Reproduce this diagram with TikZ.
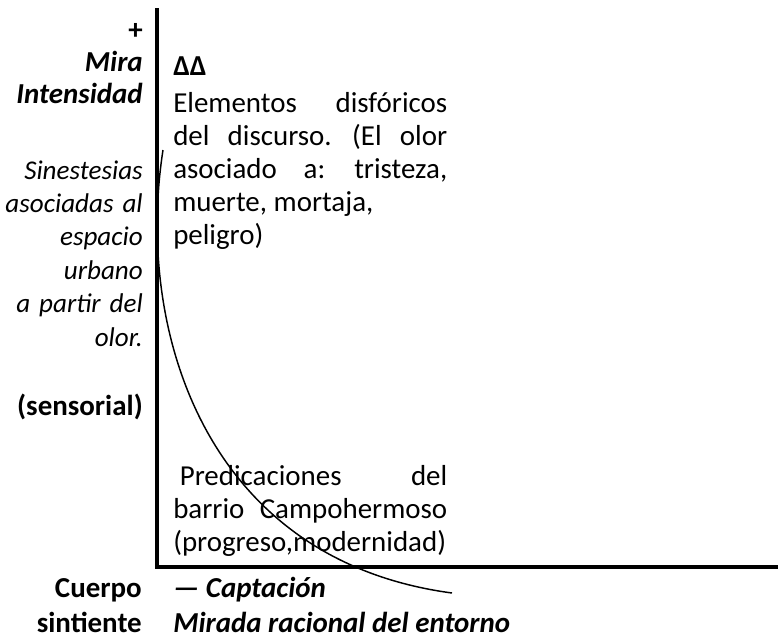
\documentclass[tikz,border=0pt]{standalone}
\usepackage{fontspec}
\setmainfont{Carlito}
\usetikzlibrary{positioning}

\tikzset{
  eje/.style={line width=3pt, line join=miter},
  curva/.style={line width=1.1pt},
  rotulo/.style={anchor=base east, inner sep=0pt, font=\fontsize{21.7}{24.75}\selectfont\bfseries},
  rotuloit/.style={rotulo, font=\fontsize{21.7}{24.75}\selectfont\bfseries\itshape},
  nota/.style={anchor=base east, inner sep=0pt, text width=125pt, align=right,
    font={\fontsize{20.3}{25.1}\selectfont\itshape\normalbaselineskip=25.1pt\relax}},
  texto/.style={anchor=base west, inner sep=0pt, text width=205.5pt, align=justify,
    font={\fontsize{21.7}{24.9}\selectfont\normalbaselineskip=24.9pt\relax}},
  pie/.style={anchor=base west, inner sep=0pt, font=\fontsize{21.7}{24.75}\selectfont\bfseries\itshape},
}

\begin{document}
\begin{tikzpicture}[x=0.75pt, y=-0.75pt]
\useasboundingbox (0,0) rectangle (778,639);

% left labels
\node[rotulo]   (mas)       at (143,39)  {+};
\node[rotuloit] (mira)      at (143,71)  {Mira};
\node[rotuloit] (intens)    at (143,103) {Intensidad};
\node[nota]     (sinest)    at (143,179) {Sinestesias\\asociadas al\\espacio\\urbano\\a partir del\\olor.};
\node[rotulo]   (sensorial) at (143,415) {(sensorial)};
\node[rotulo]   (cuerpo)    at (142,597) {Cuerpo};
\node[rotulo]   (sintiente) at (142,632) {sintiente};

% quadrant texts
\node[anchor=base west, inner sep=0pt, font=\fontsize{21.7}{24.75}\selectfont\bfseries] (delta) at (173,75) {ΔΔ};
\node[texto] (disforico) at (173,112) {Elementos \hfill disfóricos\\ del \hfill discurso. \hfill (El \hfill olor\\ asociado \hfill a: \hfill tristeza,\\ muerte, mortaja,\\ peligro)};
\node[texto] (predica) at (173,485) {\ Predicaciones \hfill del\\ barrio \hfill Campohermoso\\ (progreso,modernidad)};

% bottom labels
\node[pie] (captacion) at (173,597) {— Captación};
\node[pie] (mirada)    at (173,632) {Mirada racional del entorno};

% axes and curve
\coordinate (c0) at (163,150);
\coordinate (c1) at (452,593);
\coordinate (arriba) at (157,8);
\coordinate (esquina) at (157,567);
\coordinate (derecha) at (778,567);

\draw[curva] (c0) .. controls (135,330) and (205,560) .. (c1);
\draw[eje] (arriba) -- (esquina) -- (derecha);

\end{tikzpicture}
\end{document}
